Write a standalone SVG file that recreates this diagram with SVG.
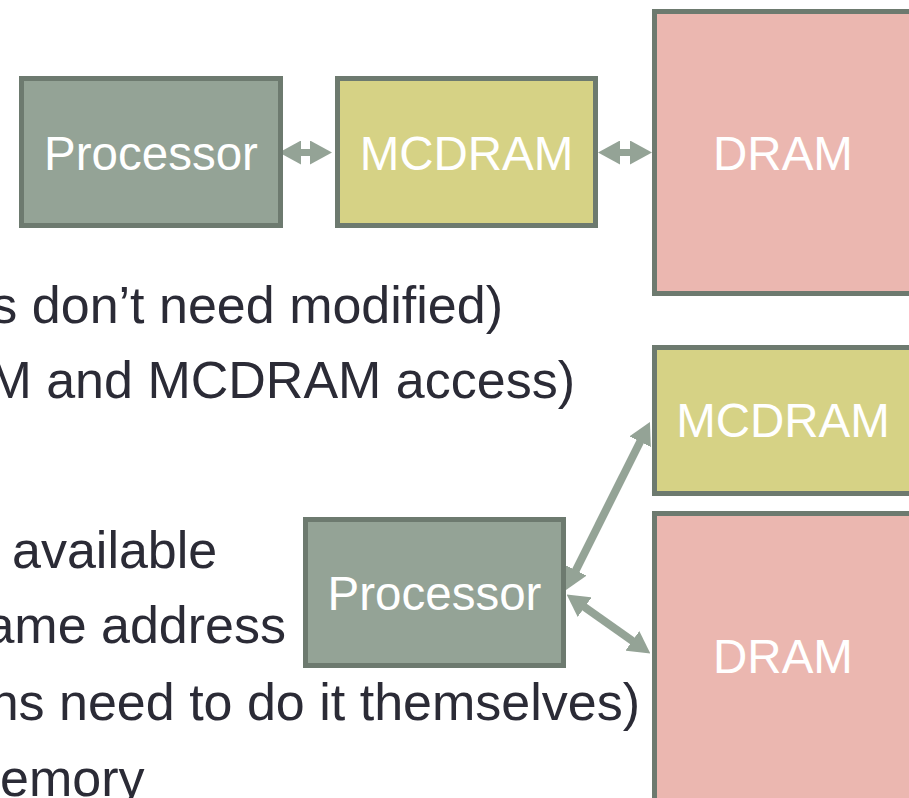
<svg xmlns="http://www.w3.org/2000/svg" width="909" height="798" viewBox="0 0 909 798">
<style>
.box{stroke:#6d7a6f;stroke-width:5}
.proc{fill:#94a396}
.mcd{fill:#d6d285}
.dram{fill:#ebb7b0}
.lbl{font-family:"Liberation Sans",Arial,sans-serif;font-size:47.5px;fill:#ffffff;text-anchor:middle}
.body{font-family:"Liberation Sans",Arial,sans-serif;font-size:52px;fill:#2b2b36}
.conn{stroke:#94a396;fill:none;marker-start:url(#ah);marker-end:url(#ah)}
</style>
<defs>
<marker id="ah" viewBox="0 0 22 24" refX="2" refY="12" markerWidth="22" markerHeight="24" markerUnits="userSpaceOnUse" orient="auto-start-reverse">
<path d="M0,0 L22,12 L0,24 z" fill="#94a396"/>
</marker>
</defs>
<g id="text">
<text class="body" x="503" y="323" text-anchor="end">s don’t need modified)</text>
<text class="body" x="575" y="398" text-anchor="end">M and MCDRAM access)</text>
<text class="body" x="12" y="568">available</text>
<text class="body" x="286" y="643" text-anchor="end">ame address</text>
<text class="body" x="640" y="720" text-anchor="end">ns need to do it themselves)</text>
<text class="body" x="0" y="796">emory</text>
</g>
<g id="connectors">
<line class="conn" x1="299" y1="152.5" x2="312" y2="152.5" stroke-width="7"/>
<line class="conn" x1="618" y1="152.5" x2="632" y2="152.5" stroke-width="7"/>
<line class="conn" x1="575" y1="572" x2="641" y2="440" stroke-width="8"/>
<line class="conn" x1="583" y1="606" x2="634" y2="642" stroke-width="8"/>
</g>
<g id="processor-top">
<rect class="box proc" x="21.5" y="78.5" width="259" height="147"/>
<text class="lbl" x="151" y="170">Processor</text>
</g>
<g id="mcdram-top">
<rect class="box mcd" x="337.5" y="78.5" width="258" height="147"/>
<text class="lbl" x="466.5" y="170">MCDRAM</text>
</g>
<g id="dram-top">
<rect class="box dram" x="654.5" y="11.5" width="258" height="282"/>
<text class="lbl" x="783" y="170">DRAM</text>
</g>
<g id="mcdram-bottom">
<rect class="box mcd" x="654.5" y="347.5" width="258" height="146"/>
<text class="lbl" x="783" y="437">MCDRAM</text>
</g>
<g id="dram-bottom">
<rect class="box dram" x="654.5" y="513.5" width="258" height="292"/>
<text class="lbl" x="783" y="673">DRAM</text>
</g>
<g id="processor-bottom">
<rect class="box proc" x="305.5" y="519.5" width="258" height="146"/>
<text class="lbl" x="434.5" y="610">Processor</text>
</g>
</svg>
